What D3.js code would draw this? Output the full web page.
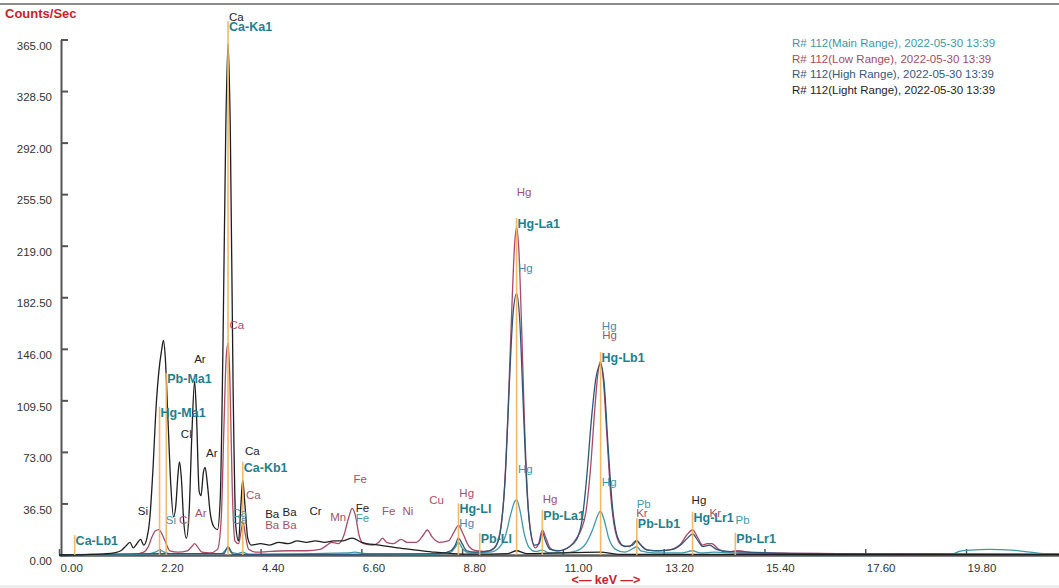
<!DOCTYPE html>
<html>
<head>
<meta charset="utf-8">
<script src="https://cdn.jsdelivr.net/npm/d3@7"></script>
<style>
  html, body { margin: 0; padding: 0; background: #fff; overflow: hidden; }
  svg { display: block; font-family: "Liberation Sans", Arial, sans-serif; }
</style>
</head>
<body>
<svg id="chart" width="1059" height="588"></svg>
<script>
// ---- axis ticks ----
const energyTicks = [0, 2.2, 4.4, 6.6, 8.8, 11, 13.2, 15.4, 17.6, 19.8];
const countTicks = [0, 36.5, 73, 109.5, 146, 182.5, 219, 255.5, 292, 328.5, 365];

// ---- spectra: [keV, counts/sec] ----
const lightRange = [[0,0],[0.6,0.3],[1.0,0.8],[1.2,1.5],[1.35,3],[1.45,6],[1.55,9],[1.62,5],[1.7,8],[1.78,11],[1.85,7],[1.92,12],[1.98,25],[2.05,60],[2.12,105],[2.18,130],[2.24,145],[2.28,152],[2.32,140],[2.38,95],[2.44,50],[2.5,27],[2.55,35],[2.6,58],[2.63,66],[2.67,55],[2.72,25],[2.78,12],[2.84,30],[2.9,85],[2.96,123],[3.0,100],[3.06,45],[3.1,42],[3.15,58],[3.19,62],[3.24,50],[3.3,30],[3.38,20],[3.46,18],[3.52,40],[3.58,150],[3.64,300],[3.69,362],[3.74,300],[3.8,120],[3.86,20],[3.92,10],[3.97,35],[4.01,53],[4.06,35],[4.12,12],[4.2,7],[4.4,8],[4.6,7],[4.8,9],[5.0,8],[5.2,10],[5.4,9],[5.6,10],[5.8,9],[6.0,10],[6.2,10],[6.4,12],[6.6,9],[7.0,7],[7.4,5],[7.8,3.5],[8.2,2],[8.6,1],[9.0,0.6],[9.8,1],[9.99,3],[10.2,1],[11.82,2],[12.2,0.5],[21.83,0.3]];

const lowRange = [[0,0],[1.6,0.3],[1.85,2],[1.95,6],[2.02,12],[2.1,17],[2.18,18],[2.26,14],[2.34,8],[2.42,3],[2.6,2],[2.8,3],[2.9,6],[2.96,8],[3.04,5],[3.12,2],[3.3,1.5],[3.46,4],[3.54,25],[3.6,90],[3.65,140],[3.69,150],[3.73,125],[3.78,50],[3.84,10],[3.92,8],[3.98,18],[4.02,23],[4.07,14],[4.14,4],[4.3,2],[4.6,2.5],[5.0,3],[5.4,3],[5.7,4],[5.85,7],[5.95,9],[6.1,8],[6.22,14],[6.32,26],[6.4,33],[6.47,28],[6.55,14],[6.65,8],[6.85,7],[6.98,9],[7.06,12],[7.15,9],[7.3,8],[7.47,11],[7.6,9],[7.8,9],[7.95,14],[8.04,17.7],[8.14,13],[8.3,9],[8.5,10],[8.62,16],[8.72,21],[8.82,15],[8.95,6],[9.1,3],[9.3,2.5],[9.5,5],[9.62,15],[9.72,45],[9.8,100],[9.88,170],[9.95,222],[9.99,232],[10.04,215],[10.1,160],[10.16,95],[10.24,35],[10.32,12],[10.4,5],[10.47,8],[10.55,17.7],[10.63,12],[10.72,5],[10.85,3],[11.0,3.5],[11.15,6],[11.3,12],[11.4,18],[11.5,30],[11.6,60],[11.7,105],[11.77,130],[11.82,137],[11.88,125],[11.96,85],[12.05,40],[12.15,16],[12.28,7],[12.45,6],[12.55,9],[12.61,10.6],[12.68,8],[12.8,4],[13.0,3],[13.3,3.5],[13.55,7],[13.7,14],[13.83,17.7],[13.95,12],[14.05,7],[14.15,8],[14.25,8],[14.4,4],[14.6,2],[14.8,3],[15.2,1.5],[16,1.2],[17,1],[18,0.6],[21.83,0.5]];

const highRange = [[0,0],[2.2,1],[3.6,1],[3.69,6],[3.8,0.5],[6,0.5],[8.3,1],[8.55,3],[8.65,7],[8.72,12],[8.8,8],[8.9,3],[9.1,2],[9.4,3],[9.55,7],[9.65,20],[9.75,60],[9.83,120],[9.91,170],[9.99,185],[10.06,165],[10.13,110],[10.2,55],[10.28,20],[10.38,7],[10.48,8],[10.55,16],[10.62,10],[10.72,4],[10.9,3],[11.1,5],[11.3,11],[11.42,25],[11.52,55],[11.62,95],[11.72,125],[11.82,135],[11.9,122],[11.98,80],[12.08,35],[12.2,12],[12.35,6],[12.52,7],[12.61,10],[12.7,7],[12.85,3.5],[13.1,3],[13.4,4],[13.6,8],[13.75,13],[13.83,15],[13.95,10],[14.05,6],[14.2,7],[14.35,4],[14.6,2.5],[15,2],[16,1.2],[18,0.8],[21.83,0.5]];

const mainRange = [[0,0],[1.9,0.5],[2.1,2],[2.2,3.5],[2.3,2],[2.45,0.8],[3.0,1],[3.55,1],[3.65,4],[3.69,5],[3.76,2],[3.9,1],[4.01,2],[4.15,0.5],[6.3,1.5],[6.45,2],[6.7,1],[8.2,0.5],[8.55,2],[8.66,6],[8.72,9],[8.8,5],[8.95,1.5],[9.4,2],[9.6,5],[9.75,14],[9.87,30],[9.95,38],[9.99,39],[10.06,32],[10.15,16],[10.25,6],[10.4,2.5],[10.55,3.5],[10.7,1.5],[11.0,1.5],[11.3,3],[11.5,8],[11.65,18],[11.76,28],[11.82,31],[11.9,25],[12.0,12],[12.15,4],[12.35,2],[12.55,5],[12.61,6],[12.7,3],[13.0,1.5],[13.6,1.5],[13.83,3],[14.0,1.5],[14.3,2],[15,1],[17,0.7],[18.8,1],[19.5,0.8],[19.65,2.5],[19.9,3.5],[20.3,4],[20.8,3.5],[21.2,2],[21.5,1],[21.83,1]];

// ---- legend ----
const legendNames = [
  "R# 112(Main Range), 2022-05-30 13:39",
  "R# 112(Low Range), 2022-05-30 13:39",
  "R# 112(High Range), 2022-05-30 13:39",
  "R# 112(Light Range), 2022-05-30 13:39"
];

// ---- emission line markers: [name, keV, marker height in counts/sec] ----
const lineMarkers = [
  ["Ca-Lb1", 0.341, 14],
  ["Hg-Ma1", 2.195, 105],
  ["Pb-Ma1", 2.342, 129],
  ["Ca-Ka1", 3.69, 378],
  ["Ca-Kb1", 4.012, 66],
  ["Hg-Ll", 8.72, 36.6],
  ["Pb-Ll", 9.184, 15.5],
  ["Hg-La1", 9.989, 238.7],
  ["Pb-La1", 10.551, 31.9],
  ["Hg-Lb1", 11.823, 143.8],
  ["Pb-Lb1", 12.614, 26],
  ["Hg-Lr1", 13.83, 30.7],
  ["Pb-Lr1", 14.764, 15.8]
];

// ---- peak identifications: [element, keV, counts/sec, spectrum] ----
const peakLabels = [
  ["Ca", 3.71, 381, "light"], ["Ar", 2.95, 139, "light"], ["Cl", 2.66, 86, "light"],
  ["Ar", 3.21, 72, "light"], ["Si", 1.72, 31, "light"], ["Ca", 4.06, 74, "light"],
  ["Ba", 4.5, 29, "light"], ["Ba", 4.88, 30.5, "light"], ["Cr", 5.47, 31, "light"],
  ["Fe", 6.48, 33, "light"], ["Hg", 13.81, 39, "light"],
  ["Ca", 3.72, 163, "low"], ["Ca", 4.08, 42.5, "low"], ["Ar", 2.97, 29.5, "low"],
  ["Cl", 2.62, 25, "low"], ["Ba", 4.5, 21.5, "low"], ["Ba", 4.88, 21, "low"],
  ["Mn", 5.92, 27, "low"], ["Fe", 6.43, 54, "low"], ["Fe", 7.05, 31, "low"],
  ["Ni", 7.5, 31, "low"], ["Cu", 8.08, 39, "low"], ["Hg", 8.74, 43.7, "low"],
  ["Hg", 9.99, 257, "low"], ["Hg", 10.56, 40, "low"], ["Hg", 11.86, 156, "low"],
  ["Kr", 12.6, 30, "low"], ["Kr", 14.2, 30, "low"],
  ["Hg", 10.02, 203, "high"], ["Hg", 11.85, 162, "high"], ["Hg", 8.74, 23, "high"],
  ["Ca", 3.78, 25, "high"],
  ["Hg", 10.02, 61, "main"], ["Hg", 11.85, 52, "main"], ["Fe", 6.48, 26, "main"],
  ["Si", 2.33, 25, "main"], ["Pb", 12.61, 36, "main"], ["Pb", 14.77, 25, "main"],
  ["Ca", 3.78, 30, "main"]
];

// ---- styling ----
const seriesColor = { main: "#3f97a9", low: "#a94a66", high: "#2f5578", light: "#1e1e1e" };
const legendColor = ["#3f97a9", "#a84a5e", "#34597d", "#1e1e1e"];
const labelColor = { main: "#3e9aac", low: "#a8506a", high: "#4a86aa", light: "#222" };
const markerColor = "#f2b35a";
const markerTextColor = "#1f7f8e";
const titleRed = "#d0202a";

const svg = d3.select("#chart");
const W = 1059, H = 588;

const x = d3.scaleLinear().domain([0, 21.83]).range([59, 1059]);
const y = d3.scaleLinear().domain([0, 365]).range([555, 39.5]);

// frame decorations
svg.append("rect").attr("x", 0).attr("y", 3).attr("width", W).attr("height", 2).attr("fill", "#8c8c8c");
svg.append("rect").attr("x", 0).attr("y", 585).attr("width", W).attr("height", 3).attr("fill", "#ececec");

// y axis
const yAxis = d3.axisLeft(y).tickValues(countTicks).tickFormat(d3.format(".2f"))
  .tickSizeInner(-7).tickSizeOuter(0).tickPadding(9);
const gy = svg.append("g").attr("transform", "translate(61,0)").call(yAxis);
gy.select(".domain").attr("stroke", "#555").attr("stroke-width", 2);
gy.selectAll(".tick line").attr("stroke", "#555").attr("stroke-width", 2);
gy.selectAll(".tick text").attr("fill", "#333").attr("font-size", 11.5)
  .attr("font-family", "Liberation Sans, Arial, sans-serif").attr("y", 6);

// x axis
const xAxis = d3.axisBottom(x).tickValues(energyTicks).tickFormat(d3.format(".2f"))
  .tickSizeInner(-6).tickSizeOuter(0).tickPadding(0);
const gx = svg.append("g").attr("transform", "translate(0,555)").call(xAxis);
gx.select(".domain").attr("stroke", "#5a5a5a").attr("stroke-width", 2.5);
gx.selectAll(".tick line").attr("stroke", "#555").attr("stroke-width", 1.5);
gx.selectAll(".tick text").attr("fill", "#333").attr("font-size", 11.5)
  .attr("font-family", "Liberation Sans, Arial, sans-serif")
  .attr("text-anchor", "start").attr("x", 1).attr("y", 9).attr("dy", "0.71em");

// spectra
const line = d3.line().x(d => x(d[0])).y(d => y(d[1])).curve(d3.curveMonotoneX);
const spectra = [["low", lowRange], ["main", mainRange], ["high", highRange], ["light", lightRange]];
svg.append("g").selectAll("path").data(spectra).join("path")
  .attr("d", d => line(d[1]))
  .attr("fill", "none")
  .attr("stroke", d => seriesColor[d[0]])
  .attr("stroke-width", 1.3)
  .attr("stroke-linejoin", "round");

// emission line markers
const gm = svg.append("g");
gm.selectAll("line").data(lineMarkers).join("line")
  .attr("x1", d => x(d[1])).attr("x2", d => x(d[1]))
  .attr("y1", y(0)).attr("y2", d => y(d[2]))
  .attr("stroke", markerColor).attr("stroke-width", 1.6).attr("opacity", 0.9);
gm.selectAll("text").data(lineMarkers).join("text")
  .attr("x", d => x(d[1]) + 1)
  .attr("y", d => y(d[2]) + 10)
  .attr("fill", markerTextColor)
  .attr("font-size", 12.5).attr("font-weight", "bold")
  .text(d => d[0]);

// peak identifications
svg.append("g").selectAll("text").data(peakLabels).join("text")
  .attr("x", d => x(d[1]))
  .attr("y", d => y(d[2]))
  .attr("dy", "0.35em")
  .attr("fill", d => labelColor[d[3]])
  .attr("font-size", 11.5)
  .text(d => d[0]);

// titles
svg.append("text").attr("x", 5).attr("y", 18).attr("fill", titleRed)
  .attr("font-size", 13).attr("font-weight", "bold").text("Counts/Sec");
svg.append("text").attr("x", 606).attr("y", 584).attr("text-anchor", "middle")
  .attr("fill", titleRed).attr("font-size", 12.5).attr("font-weight", "bold")
  .text("<— keV —>");

// legend
svg.append("g").selectAll("text").data(legendNames).join("text")
  .attr("x", 792).attr("y", (d, i) => 47 + i * 15.5)
  .attr("fill", (d, i) => legendColor[i])
  .attr("font-size", 11.5)
  .text(d => d);
</script>
</body>
</html>
